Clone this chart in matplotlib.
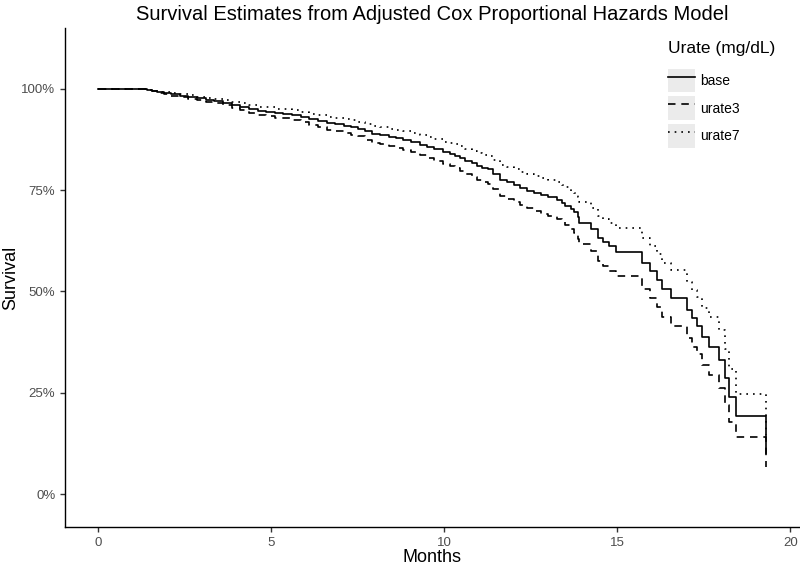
import matplotlib
matplotlib.use("Agg")
import matplotlib.pyplot as plt
from matplotlib.legend_handler import HandlerLine2D
from matplotlib.patches import Rectangle

plt.rcParams['font.family'] = ['Liberation Sans', 'DejaVu Sans']

# Step times (months) and survival (%)
months = [0.00, 1.40, 1.55, 1.70, 1.90, 2.10, 2.35, 2.60, 2.85, 3.10, 3.35,
          3.60, 3.85, 4.10, 4.35, 4.60, 4.85, 5.10, 5.35, 5.60, 5.85, 6.10,
          6.35, 6.60, 6.85, 7.10, 7.30, 7.50, 7.70, 7.90, 8.15, 8.40, 8.60,
          8.80, 9.05, 9.30, 9.50, 9.70, 9.95, 10.15, 10.30, 10.45, 10.60,
          10.80, 10.95, 11.10, 11.25, 11.40, 11.60, 11.80, 12.00, 12.20,
          12.40, 12.60, 12.80, 13.00, 13.25, 13.40, 13.50, 13.65, 13.75,
          13.85, 13.90, 14.25, 14.45, 14.60, 14.75, 14.95, 15.70, 15.95,
          16.15, 16.30, 16.55, 17.00, 17.15, 17.30, 17.45, 17.65, 17.95,
          18.10, 18.24, 18.44, 19.31]

base = [100.0, 99.8, 99.5, 99.2, 98.9, 98.6, 98.3, 98.0, 97.7, 97.3, 97.0,
        96.6, 96.1, 95.6, 95.1, 94.6, 94.4, 94.1, 93.9, 93.6, 93.1, 92.6,
        92.1, 91.6, 91.3, 90.9, 90.6, 90.2, 89.5, 88.9, 88.6, 88.2, 87.8,
        87.4, 86.8, 86.2, 85.7, 85.1, 84.4, 83.9, 83.5, 82.9, 82.3,
        81.6, 80.9, 80.5, 80.1, 79.0, 77.6, 77.0, 76.3, 75.6,
        74.9, 74.3, 73.8, 73.2, 72.6, 71.9, 71.2, 70.3, 69.5,
        68.3, 67.0, 65.5, 63.3, 62.2, 61.1, 59.8, 57.0, 55.0,
        52.8, 50.5, 48.4, 45.4, 43.4, 41.5, 38.8, 36.3, 33.1,
        28.6, 24.0, 19.3, 10.1]

urate3 = [100.0, 99.8, 99.4, 99.0, 98.7, 98.3, 98.0, 97.6, 97.2, 96.7, 96.4,
          95.9, 95.3, 94.7, 94.1, 93.5, 93.3, 92.9, 92.7, 92.3, 91.7, 91.1,
          90.5, 89.9, 89.6, 89.1, 88.7, 88.3, 87.4, 86.7, 86.4, 85.9, 85.4,
          85.0, 84.3, 83.6, 83.0, 82.3, 81.5, 80.9, 80.4, 79.7, 79.0,
          78.2, 77.4, 76.9, 76.5, 75.2, 73.6, 72.9, 72.1, 71.3,
          70.5, 69.8, 69.2, 68.6, 67.9, 67.1, 66.3, 65.3, 64.4,
          63.0, 61.6, 59.9, 57.5, 56.3, 55.1, 53.7, 50.7, 48.5,
          46.2, 43.8, 41.6, 38.5, 36.4, 34.5, 31.8, 29.3, 26.2,
          22.0, 17.8, 14.0, 6.8]

urate7 = [100.0, 99.8, 99.6, 99.3, 99.1, 98.9, 98.6, 98.4, 98.1, 97.8, 97.5,
          97.2, 96.8, 96.4, 96.0, 95.6, 95.4, 95.1, 95.0, 94.7, 94.3, 93.9,
          93.5, 93.1, 92.8, 92.5, 92.2, 91.9, 91.3, 90.8, 90.6, 90.2, 89.9,
          89.5, 89.0, 88.5, 88.1, 87.6, 87.0, 86.6, 86.3, 85.8, 85.2,
          84.6, 84.1, 83.7, 83.4, 82.4, 81.2, 80.7, 80.1, 79.5,
          78.9, 78.4, 78.0, 77.4, 76.9, 76.3, 75.7, 74.9, 74.2,
          73.2, 72.0, 70.7, 68.7, 67.8, 66.8, 65.6, 63.1, 61.3,
          59.2, 57.1, 55.2, 52.3, 50.4, 48.6, 46.0, 43.6, 40.4,
          35.8, 31.0, 24.8, 14.5]

series_names = ['base', 'urate3', 'urate7']
y_ticks = [0, 25, 50, 75, 100]
y_ticklabels = ['0%', '25%', '50%', '75%', '100%']
x_ticks = [0, 5, 10, 15, 20]

fig = plt.figure(figsize=(8, 5.66), dpi=100)
ax = fig.add_axes([65/800, 39/566, 735/800, 499/566])

styles = {
    'base': dict(linestyle='-'),
    'urate3': dict(dashes=(4.5, 3.5)),
    'urate7': dict(dashes=(1.0, 3.0)),
}
data = {'base': base, 'urate3': urate3, 'urate7': urate7}
handles = []
for name in series_names:
    ln, = ax.step(months, data[name], where='post', color='black', lw=1.2,
                  label=name, **styles[name])
    handles.append(ln)

ax.set_xlim(-0.965, 20.28)
ax.set_ylim(-8.1, 115.0)
ax.set_xticks(x_ticks)
ax.set_yticks(y_ticks)
ax.set_yticklabels(y_ticklabels)
ax.tick_params(colors='#333333', labelcolor='#4d4d4d', labelsize=9.5,
               length=3.5, width=1.0)
for s in ['top', 'right']:
    ax.spines[s].set_visible(False)
for s in ['left', 'bottom']:
    ax.spines[s].set_linewidth(1.0)
    ax.spines[s].set_color('black')

ax.set_xlabel('Months', fontsize=13)
ax.set_ylabel('Survival', fontsize=13)
ax.xaxis.label.set_va('center')
ax.yaxis.label.set_va('center')
ax.xaxis.set_label_coords(0.5, (527 - 558) / 499)
ax.yaxis.set_label_coords((11 - 65) / 735, 0.5)
fig.text(432/800, 1 - 14/566, 'Survival Estimates from Adjusted Cox Proportional Hazards Model',
         ha='center', va='center', fontsize=14.5)


class KeyHandler(HandlerLine2D):
    def create_artists(self, legend, orig_handle, xdescent, ydescent,
                       width, height, fontsize, trans):
        rect = Rectangle((-xdescent, -ydescent), width, height,
                         facecolor='#ebebeb', edgecolor='none', transform=trans)
        arts = super().create_artists(legend, orig_handle, xdescent, ydescent,
                                      width, height, fontsize, trans)
        return [rect] + list(arts)


leg = ax.legend(handles=handles, labels=series_names, title='Urate (mg/dL)',
                loc='upper left', bbox_to_anchor=(668/800, 1 - 41/566),
                bbox_transform=fig.transFigure,
                frameon=False, fontsize=10, title_fontsize=12.5,
                handlelength=1.95, handleheight=2.25, labelspacing=0.3,
                handletextpad=0.35, borderpad=0.0, borderaxespad=0.0,
                handler_map={h: KeyHandler() for h in handles})
leg._legend_box.align = 'left'
leg._legend_box.sep = 9

fig.savefig('out.png', dpi=100)
